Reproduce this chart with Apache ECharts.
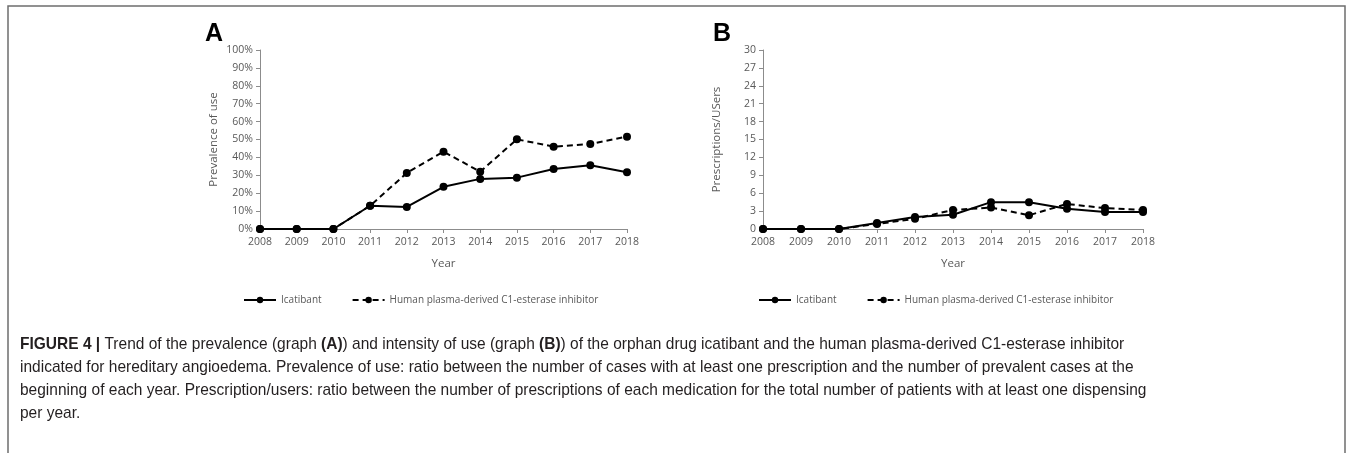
<!DOCTYPE html>
<html><head><meta charset="utf-8">
<script src="https://cdn.jsdelivr.net/npm/echarts@6/dist/echarts.min.js"></script>
<style>html,body{margin:0;padding:0;background:#fff;}#c{width:1356px;height:453px;}</style>
</head><body><div id="c"></div>
<script>
const years = ['2008','2009','2010','2011','2012','2013','2014','2015','2016','2017','2018'];
const prevIcatibant = [0,0,0,0.13,0.123,0.236,0.28,0.287,0.335,0.356,0.317];
const prevC1 = [0,0,0,0.13,0.313,0.432,0.32,0.501,0.46,0.475,0.516];
const intIcatibant = [0,0,0,1.0,2.0,2.4,4.5,4.5,3.4,2.85,2.85];
const intC1 = [0,0,0,0.85,1.7,3.2,3.6,2.3,4.2,3.5,3.2];
const nameA = 'Icatibant';
const nameB = 'Human plasma-derived C1-esterase inhibitor';
const captionLines = [
  [['b','FIGURE 4 | '],['n','Trend of the prevalence (graph '],['b','(A)'],['n',') and intensity of use (graph '],['b','(B)'],['n',') of the orphan drug icatibant and the human plasma-derived C1-esterase inhibitor']],
  [['n','indicated for hereditary angioedema. Prevalence of use: ratio between the number of cases with at least one prescription and the number of prevalent cases at the']],
  [['n','beginning of each year. Prescription/users: ratio between the number of prescriptions of each medication for the total number of patients with at least one dispensing']],
  [['n','per year.']]
];

const axisCol = '#8c8c8c';
const labCol = '#595959';
const fnt = 'Open Sans';
function xAx(gi){return {type:'category',gridIndex:gi,data:years,boundaryGap:false,
  axisLine:{lineStyle:{color:axisCol,width:1}},axisTick:{alignWithLabel:true,length:4,lineStyle:{color:axisCol}},
  axisLabel:{color:labCol,fontFamily:fnt,fontSize:10.5,margin:8},
  name:'Year',nameLocation:'middle',nameGap:29,nameTextStyle:{color:labCol,fontFamily:fnt,fontSize:11.5}};}
function yAx(gi,max,interval,fmt,name){return {type:'value',gridIndex:gi,min:0,max:max,interval:interval,
  axisLine:{show:true,lineStyle:{color:axisCol,width:1}},axisTick:{show:true,inside:false,length:4,lineStyle:{color:axisCol}},
  splitLine:{show:false},
  axisLabel:{color:labCol,fontFamily:fnt,fontSize:10.5,margin:7,formatter:fmt},
  name:name,nameLocation:'middle',nameRotate:90,nameGap:40,nameTextStyle:{color:labCol,fontFamily:fnt,fontSize:11.5}};}
function ser(name,data,gi,dashed){return {name:name,type:'line',xAxisIndex:gi,yAxisIndex:gi,data:data,
  symbol:'circle',symbolSize:8,itemStyle:{color:'#000'},
  lineStyle:{color:'#000',width:2,type:dashed?[6,4]:'solid'},animation:false};}

const caption = captionLines.map((ln,i)=>({
  type:'text',x:20,y:336+i*23,scaleX:0.912,
  style:{text:ln.map(s=>'{'+s[0]+'|'+s[1]+'}').join(''),
    rich:{n:{fontFamily:'Liberation Sans',fontSize:17,fill:'#231f20'},
          b:{fontFamily:'Liberation Sans',fontSize:17,fontWeight:'bold',fill:'#231f20'}}}
}));

const chart = echarts.init(document.getElementById('c'),null,{renderer:'canvas'});
chart.setOption({
  backgroundColor:'#fff',
  animation:false,
  grid:[{left:260,top:50,width:367,height:179},{left:763,top:50,width:380,height:179}],
  xAxis:[xAx(0),xAx(1)],
  yAxis:[yAx(0,1,0.1,v=>Math.round(v*100)+'%','Prevalence of use'),yAx(1,30,3,v=>v,'Prescriptions/USers')],
  legend:[
    {left:243,top:295,padding:0,itemWidth:32,itemHeight:8,itemGap:30,data:[nameA,nameB],
     textStyle:{color:labCol,fontFamily:fnt,fontSize:10}},
    {left:758,top:295,padding:0,itemWidth:32,itemHeight:8,itemGap:30,data:[nameA,nameB],
     textStyle:{color:labCol,fontFamily:fnt,fontSize:10}}
  ],
  series:[ser(nameA,prevIcatibant,0,false),ser(nameB,prevC1,0,true),ser(nameA,intIcatibant,1,false),ser(nameB,intC1,1,true)],
  graphic:[
    {type:'rect',shape:{x:8,y:6,width:1337,height:470},style:{fill:'none',stroke:'#6e6e6e',lineWidth:1.5}},
    {type:'text',x:205,y:22,style:{text:'A',fontFamily:'Liberation Sans',fontWeight:'bold',fontSize:25,fill:'#000'}},
    {type:'text',x:713,y:22,style:{text:'B',fontFamily:'Liberation Sans',fontWeight:'bold',fontSize:25,fill:'#000'}}
  ].concat(caption)
});
</script></body></html>
